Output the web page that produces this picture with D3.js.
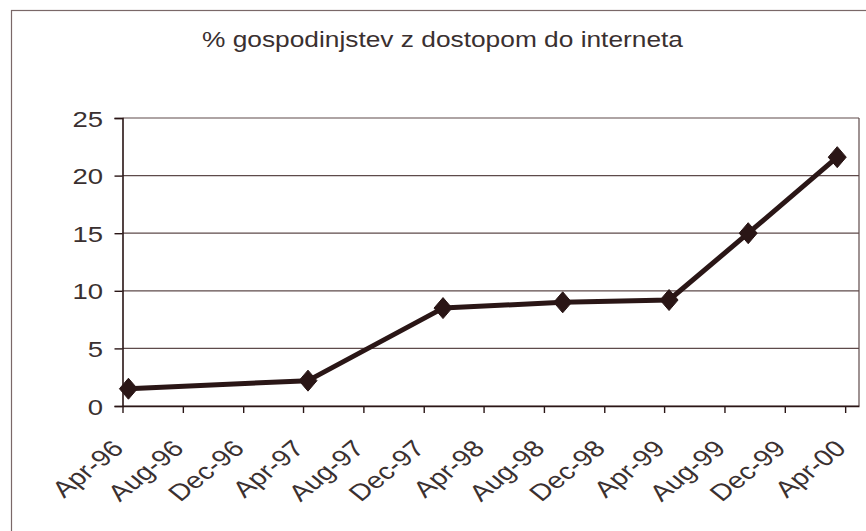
<!DOCTYPE html>
<html>
<head>
<meta charset="utf-8">
<script src="https://cdn.jsdelivr.net/npm/d3@7"></script>
<style>
  html, body { margin: 0; padding: 0; background: #ffffff; }
  svg { display: block; }
  text { font-family: "Liberation Sans", Arial, sans-serif; fill: #3a3030; }
</style>
</head>
<body>
<svg id="chart" width="866" height="531"></svg>
<script>
// ---- data ----
const title = "% gospodinjstev z dostopom do interneta";
const surveyDates = ["1996-04-13", "1997-04-11", "1998-01-09", "1998-09-08", "1999-04-11", "1999-09-18", "2000-03-16"];
const householdShare = [1.5, 2.2, 8.5, 9.0, 9.2, 15.0, 21.6];
const xTickLabels = ["Apr-96", "Aug-96", "Dec-96", "Apr-97", "Aug-97", "Dec-97", "Apr-98", "Aug-98", "Dec-98", "Apr-99", "Aug-99", "Dec-99", "Apr-00"];
const yTickValues = [0, 5, 10, 15, 20, 25];
const axisStart = "1996-04-01";
const axisEnd = "2000-04-29";

// ---- layout ----
const svg = d3.select("#chart");
const plot = { left: 122.5, right: 859, top: 118, bottom: 406 };
const stretch = 1.25;
const ink = "#2a1616";
const gridColor = "#5e4a4a";

const parseISO = d3.timeParse("%Y-%m-%d");
const parseTick = d3.timeParse("%b-%y");

const x = d3.scaleTime()
  .domain([parseISO(axisStart), parseISO(axisEnd)])
  .range([plot.left, plot.right]);
const y = d3.scaleLinear()
  .domain([0, 25])
  .range([plot.bottom, plot.top]);

const points = surveyDates.map((d, i) => ({ date: parseISO(d), value: householdShare[i] }));
const tickDates = xTickLabels.map(s => parseTick(s));

// outer chart border (extends beyond the visible area on right/bottom)
svg.append("rect")
  .attr("x", 11.5).attr("y", 10.5)
  .attr("width", 900).attr("height", 600)
  .attr("fill", "none")
  .attr("stroke", "#7a6868")
  .attr("stroke-width", 1.2);

// title
svg.append("text")
  .attr("x", 202).attr("y", 47)
  .attr("font-size", 22)
  .attr("textLength", 481)
  .attr("lengthAdjust", "spacingAndGlyphs")
  .text(title);

// gridlines
svg.append("g")
  .selectAll("line")
  .data(yTickValues)
  .join("line")
  .attr("x1", plot.left).attr("x2", plot.right)
  .attr("y1", d => y(d)).attr("y2", d => y(d))
  .attr("stroke", gridColor)
  .attr("stroke-width", 1.2);

// right border of plot area
svg.append("line")
  .attr("x1", plot.right).attr("x2", plot.right)
  .attr("y1", plot.top).attr("y2", plot.bottom)
  .attr("stroke", gridColor)
  .attr("stroke-width", 1.2);

// y axis
const yAxis = svg.append("g")
  .attr("transform", `translate(${plot.left},0)`)
  .call(d3.axisLeft(y).tickValues(yTickValues).tickSize(8).tickFormat(d3.format("d")));
yAxis.select(".domain").attr("stroke", ink).attr("stroke-width", 1.6);
yAxis.selectAll(".tick line").attr("stroke", ink).attr("stroke-width", 1.4);
yAxis.selectAll(".tick text")
  .attr("font-size", 22)
  .attr("fill", "#3a3030")
  .attr("x", null).attr("dy", null)
  .attr("text-anchor", "end")
  .attr("transform", `translate(-19.5,8) scale(${stretch},1)`);

// x axis
const xAxis = svg.append("g")
  .attr("transform", `translate(0,${plot.bottom})`)
  .call(d3.axisBottom(x).tickValues(tickDates).tickSize(7).tickSizeOuter(0)
    .tickFormat((d, i) => xTickLabels[i]));
xAxis.select(".domain").attr("stroke", ink).attr("stroke-width", 1.6);
xAxis.selectAll(".tick line").attr("stroke", ink).attr("stroke-width", 1.4);
xAxis.selectAll(".tick text")
  .attr("font-size", 23)
  .attr("fill", "#3a3030")
  .attr("y", null).attr("dy", null)
  .attr("text-anchor", "end")
  .attr("transform", `translate(2,44) scale(${stretch},1) rotate(-45)`);

// series line
const line = d3.line().x(d => x(d.date)).y(d => y(d.value));
svg.append("path")
  .datum(points)
  .attr("d", line)
  .attr("fill", "none")
  .attr("stroke", ink)
  .attr("stroke-width", 5)
  .attr("stroke-linejoin", "round");

// diamond markers
const hw = 9, hh = 10.5;
svg.append("g")
  .selectAll("path")
  .data(points)
  .join("path")
  .attr("transform", d => `translate(${x(d.date)},${y(d.value)})`)
  .attr("d", `M0,${-hh}L${hw},0L0,${hh}L${-hw},0Z`)
  .attr("fill", ink)
  .attr("stroke", ink)
  .attr("stroke-width", 1);
</script>
</body>
</html>
